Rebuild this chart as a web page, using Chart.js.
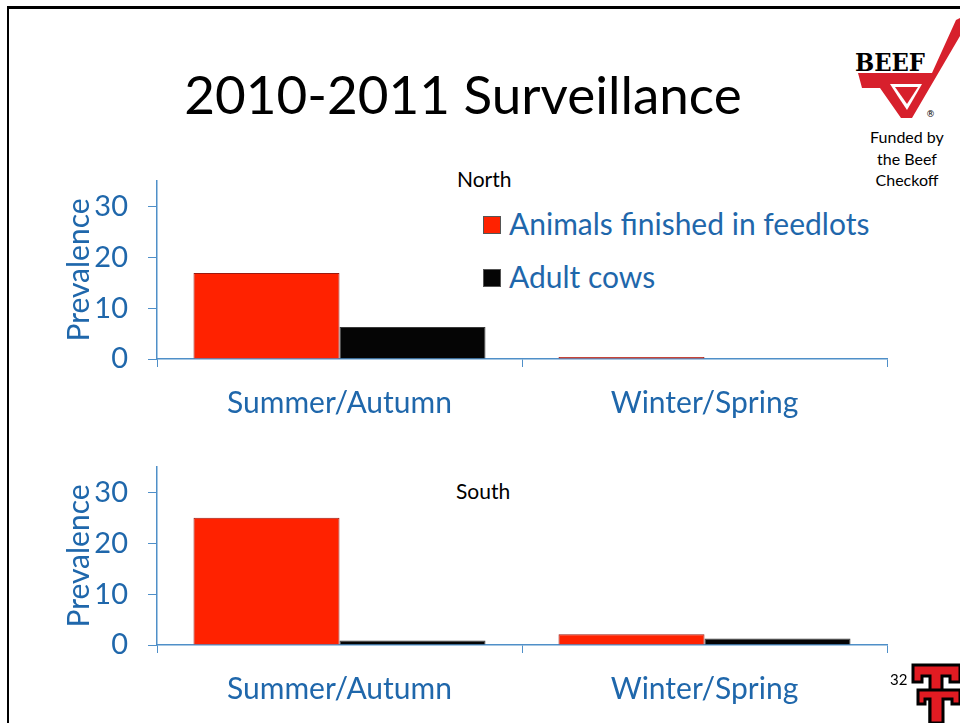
<!DOCTYPE html>
<html>
<head>
<meta charset="utf-8">
<script src="https://cdn.jsdelivr.net/npm/chart.js@4/dist/chart.umd.min.js"></script>
<style>
  body { margin: 0; background: #fff; }
  #slide { position: relative; width: 960px; height: 723px; overflow: hidden; background: #fff; font-family: Lato, "Open Sans", sans-serif; }
  .abs { position: absolute; }
  #frame { left: 7px; top: 6px; width: 980px; height: 760px; border-top: 3px solid #000; border-left: 2px solid #000; }
  #title { left: 0; width: 926px; top: 54px; text-align: center; font-size: 53px; color: #000; line-height: 80px; }
  .region { font-size: 21px; color: #000; }
  .legend { left: 483px; font-size: 30px; color: #1f67ab; white-space: nowrap; }
  .legend span.box { display: inline-block; width: 16px; height: 16px; margin-right: 8px; vertical-align: 1px; border: 1px solid #555; }
  #funded { left: 860px; width: 94px; top: 126px; text-align: center; font-size: 16px; line-height: 21.5px; color: #000; }
  #page { left: 890px; top: 670px; font-size: 15px; color: #000; }
  canvas { position: absolute; }
</style>
</head>
<body>
<div id="slide">
  <div id="frame" class="abs"></div>
  <div id="title" class="abs">2010-2011 Surveillance</div>

  <svg class="abs" style="left:840px;top:10px" width="120" height="115" viewBox="840 10 120 115">
    <polygon points="858,73 932,73 956,20 960,18 960,36 912,118 901,118 880,88 862,88" fill="#d7202c"/>
    <polygon points="890,84 922,84 914,98 907,110 899,98" fill="#fff"/>
    <polygon points="895,87 918,87 907,104" fill="#d7202c"/>
    <text x="855" y="71" font-family="DejaVu Serif" font-weight="bold" font-size="24" textLength="70" lengthAdjust="spacingAndGlyphs" fill="#000">BEEF</text>
    <text x="926" y="117" font-family="DejaVu Sans" font-size="9" fill="#000">®</text>
  </svg>
  <div id="funded" class="abs">Funded by<br>the Beef<br>Checkoff</div>

  <div id="northLabel" class="abs region" style="left:457px;top:166px">North</div>
  <div id="southLabel" class="abs region" style="left:456px;top:478px">South</div>
  <div id="legend"></div>

  <canvas id="north" width="840" height="260" style="left:60px;top:170px"></canvas>
  <canvas id="south" width="840" height="260" style="left:60px;top:456px"></canvas>

  <div id="page" class="abs">32</div>
  <svg class="abs" style="left:905px;top:660px" width="55" height="63" viewBox="905 660 55 63">
    <g fill="#e11b22" stroke="#000" stroke-width="3" stroke-linejoin="miter">
      <path d="M913,665 L960,665 L960,682 L950,682 L950,676 L942,676 L942,723 L930,723 L930,676 L922,676 L922,682 L913,682 Z"/>
      <path d="M918,690 L960,690 L960,704 L952,704 L952,699 L943,699 L943,723 L930,723 L930,699 L925,699 L925,704 L918,704 Z"/>
    </g>
  </svg>
</div>

<script>
// data
const categories = ['Summer/Autumn', 'Winter/Spring'];
const seriesNames = ['Animals finished in feedlots', 'Adult cows'];
const northFeedlot = [16.9, 0.4];
const northCows = [6.3, 0];
const southFeedlot = [25.0, 2.1];
const southCows = [0.9, 1.3];
const yTicks = [0, 10, 20, 30];

const blue = '#1f67ab';
const axisBlue = '#4f8fc8';
const barColors = ['#ff2200', '#050505'];
const barBorders = ['#9c1a10', '#3a3a3a'];

// legend (drawn inside the north plot)
const legendDiv = document.getElementById('legend');
seriesNames.forEach((name, i) => {
  const d = document.createElement('div');
  d.className = 'abs legend';
  d.style.top = (205 + i * 53) + 'px';
  d.innerHTML = '<span class="box" style="background:' + barColors[i] + '"></span>' + name;
  legendDiv.appendChild(d);
});

Chart.defaults.font.family = 'Lato, "Open Sans", sans-serif';

const makeChart = (id, feedlot, cows) => {
  const config = {
    type: 'bar',
    data: {
      labels: categories,
      datasets: [
        { label: seriesNames[0], data: feedlot, backgroundColor: barColors[0], borderColor: barBorders[0], borderWidth: 1 },
        { label: seriesNames[1], data: cows, backgroundColor: barColors[1], borderColor: barBorders[1], borderWidth: 1 }
      ]
    },
    options: {
      responsive: false,
      animation: false,
      devicePixelRatio: 1,
      layout: { padding: { top: 11, right: 13, left: 0, bottom: 0 } },
      plugins: { legend: { display: false }, tooltip: { enabled: false } },
      datasets: { bar: { categoryPercentage: 0.8, barPercentage: 1.0 } },
      scales: {
        x: {
          offset: true,
          grid: { display: true, drawOnChartArea: false, tickLength: 8, color: axisBlue, offset: true },
          border: { color: axisBlue, width: 1.5 },
          ticks: { color: blue, font: { size: 30 }, padding: 18 },
          afterFit: (scale) => { scale.height = 71; scale.paddingLeft = 0; scale.paddingRight = 0; }
        },
        y: {
          min: 0,
          max: 35,
          afterBuildTicks: (scale) => { scale.ticks = yTicks.map(v => ({ value: v })); },
          grid: { display: true, drawOnChartArea: false, tickLength: 9, color: axisBlue },
          border: { color: axisBlue, width: 1.5 },
          ticks: { color: blue, font: { size: 29 }, padding: 20 },
          title: { display: true, text: 'Prevalence', color: blue, font: { size: 30 }, padding: { top: 1, bottom: 0 } },
          afterFit: (scale) => { scale.width = 97; scale.paddingTop = 0; scale.paddingBottom = 0; }
        }
      }
    }
  };
  return new Chart(document.getElementById(id), config);
};

makeChart('north', northFeedlot, northCows);
makeChart('south', southFeedlot, southCows);
</script>
</body>
</html>
